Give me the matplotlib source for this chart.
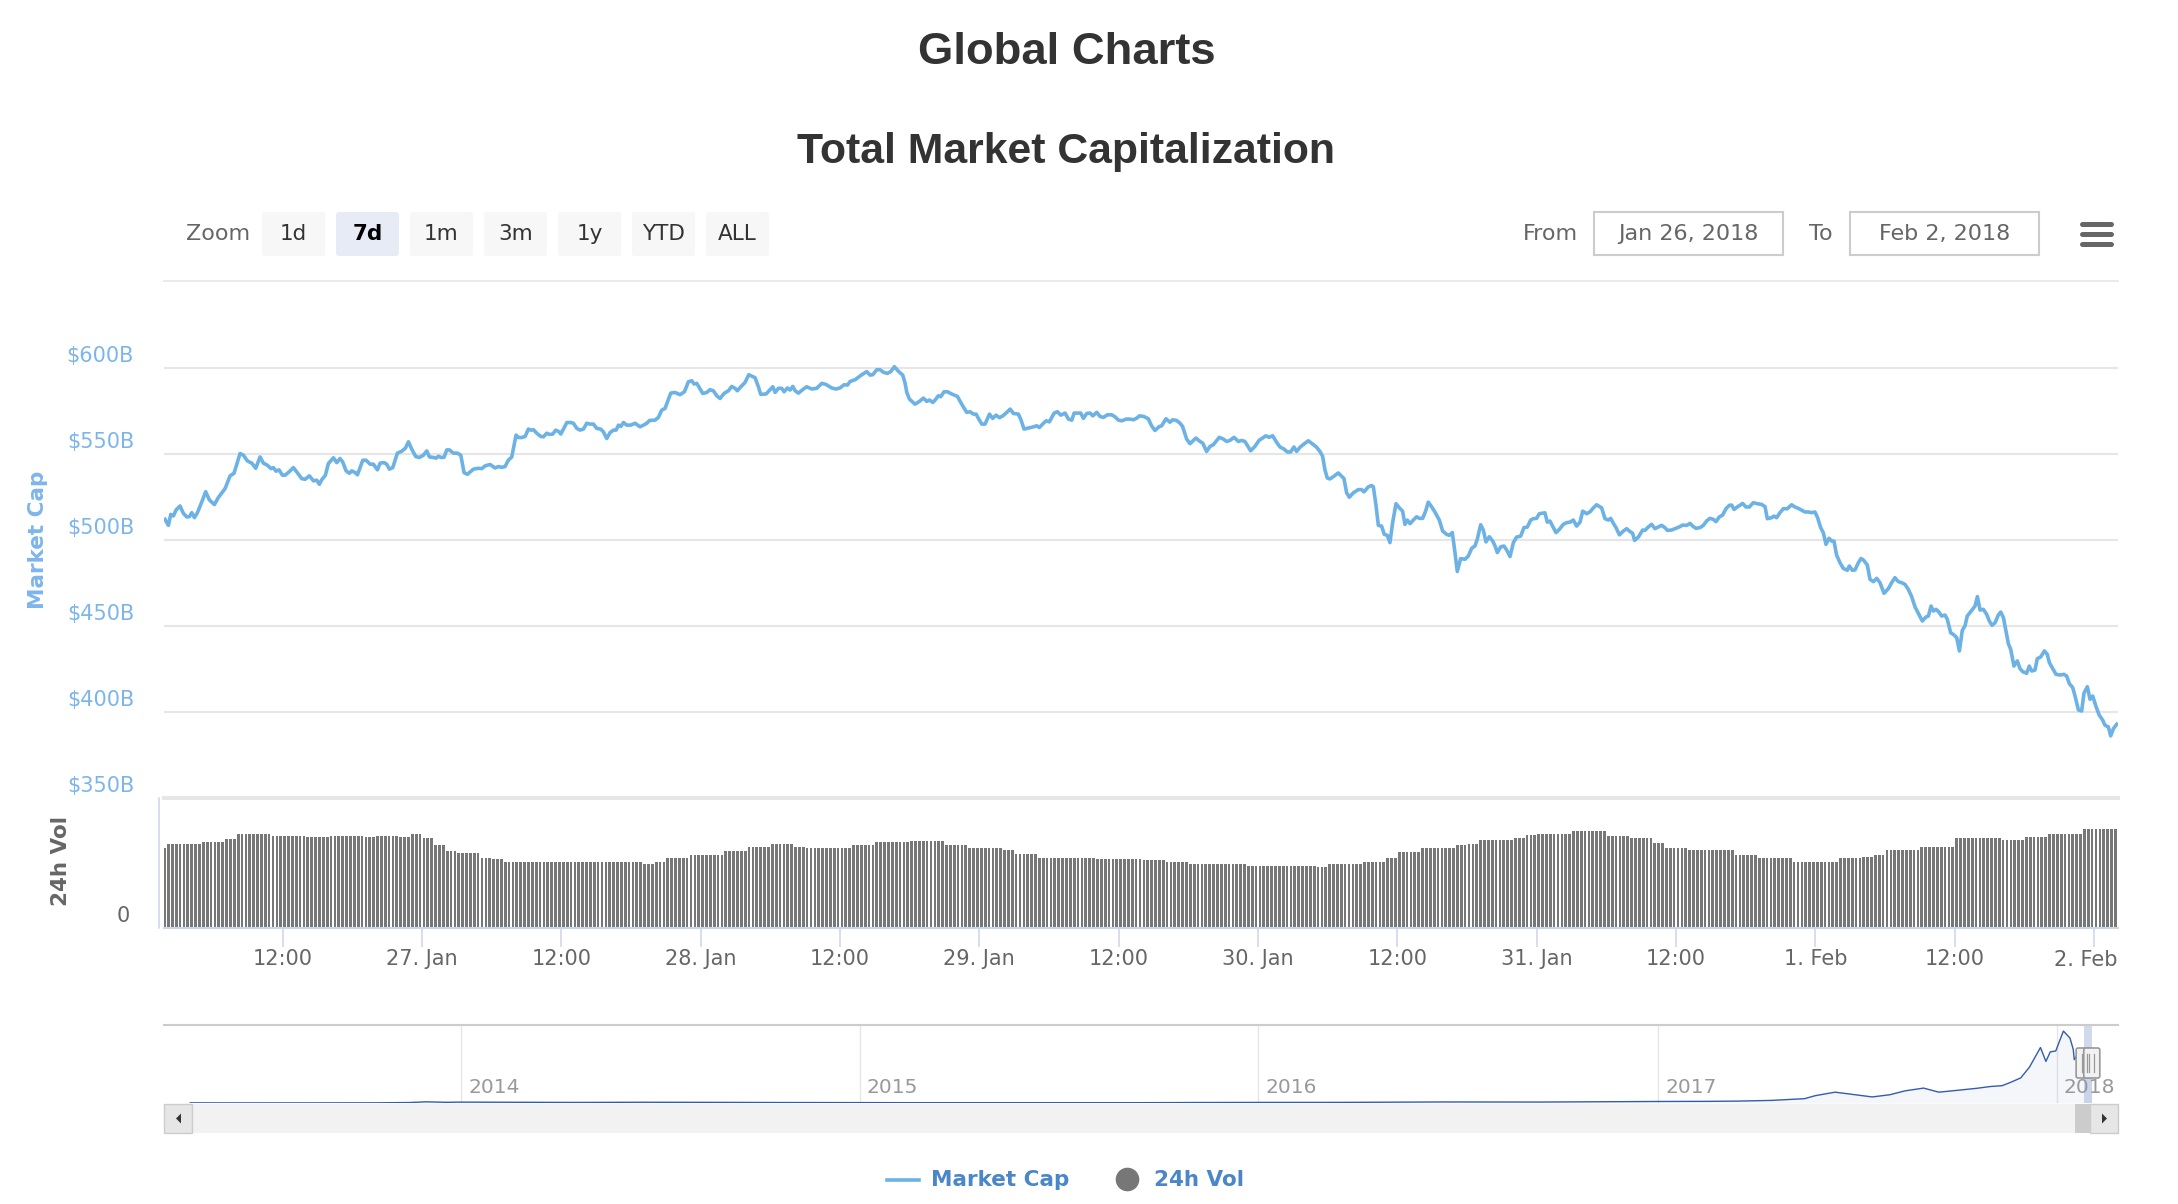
import numpy as np
import pandas as pd
import matplotlib
matplotlib.use("Agg")
import matplotlib.pyplot as plt
import matplotlib.dates as mdates
from matplotlib.patches import FancyBboxPatch, Rectangle, Polygon
from matplotlib.lines import Line2D
from matplotlib.transforms import offset_copy

plt.rcParams['font.family'] = ['DejaVu Sans']

W, H = 2178, 1204
BASE = pd.Timestamp('2018-01-26 00:00')

# total market cap, hours after 26 Jan 2018 00:00 -> $B
mc_hours = [
    1.87, 2.16, 2.36, 2.59, 2.82, 3.16, 3.45, 3.74, 3.97, 4.17,
    4.40, 4.66, 5.03, 5.37, 5.69, 6.12, 6.46, 7.04, 7.47, 7.81,
    8.33, 8.62, 8.96, 9.34, 9.68, 10.05, 10.34, 10.68, 11.00, 11.20,
    11.43, 11.69, 11.98, 12.21, 12.58, 12.92, 13.21, 13.64, 13.93, 14.30,
    14.65, 14.93, 15.16, 15.36, 15.68, 15.94, 16.37, 16.66, 16.94, 17.17,
    17.46, 17.75, 17.95, 18.24, 18.44, 18.90, 19.18, 19.53, 19.81, 20.16,
    20.39, 20.73, 20.96, 21.19, 21.48, 21.88, 22.25, 22.57, 22.83, 23.12,
    23.46, 23.78, 24.12, 24.41, 24.64, 24.98, 25.21, 25.41, 25.64, 25.90,
    26.13, 26.36, 26.70, 27.05, 27.34, 27.62, 27.91, 28.43, 28.86, 29.15,
    29.43, 29.86, 30.29, 30.58, 30.87, 31.15, 31.44, 31.73, 32.10, 32.30,
    32.59, 32.88, 33.16, 33.37, 33.60, 33.88, 34.23, 34.46, 34.74, 34.97,
    35.26, 35.52, 35.81, 35.95, 36.18, 36.47, 36.81, 37.04, 37.33, 37.61,
    37.90, 38.19, 38.48, 38.76, 39.05, 39.39, 39.62, 39.91, 40.20, 40.49,
    40.71, 40.92, 41.12, 41.35, 41.63, 41.98, 42.35, 42.78, 43.07, 43.36,
    43.59,
    44.07, 44.36, 44.64, 44.93, 45.42, 45.79, 46.22, 46.60, 46.94, 47.23,
    47.43, 47.66, 48.18, 48.52, 48.81, 49.09, 49.38, 49.67, 50.01, 50.39,
    50.67, 50.96, 51.16, 51.45, 51.82, 52.14, 52.68, 52.97, 53.17, 53.63,
    53.98, 54.21, 54.41, 54.69, 54.98, 55.18, 55.47, 55.70, 55.93, 56.13,
    56.42, 56.85, 57.13, 57.56, 57.99, 58.43, 58.77, 59.29, 59.66, 60.00,
    60.35, 60.64, 60.87, 61.30, 61.58, 61.87, 62.30, 62.59, 62.82, 63.16,
    63.45, 63.74, 64.08, 64.37, 64.68, 65.03, 65.40, 65.60, 65.75, 65.98,
    66.46, 66.84, 67.18, 67.47, 67.70, 67.99, 68.19, 68.47, 68.67, 68.96,
    69.25, 69.62, 70.11, 70.48, 70.91, 71.20, 71.49, 71.72, 71.92, 72.21,
    72.49, 72.87, 73.15, 73.44, 73.73, 74.02, 74.36, 74.65, 74.93, 75.36,
    75.56, 75.85, 76.23, 76.66, 76.94, 77.17, 77.52, 77.75, 78.03, 78.44,
    78.72, 79.01, 79.38, 79.67, 79.96, 80.16, 80.53, 80.73, 80.96, 81.25,
    81.54, 81.77, 82.11, 82.40, 82.69, 83.03, 83.40, 83.69, 83.98, 84.26,
    84.64, 84.98, 85.27, 85.56, 85.79,
    86.17, 86.55, 86.83, 87.12, 87.50, 87.70, 88.07, 88.41, 88.64, 88.99,
    89.28, 89.50, 89.85, 90.14, 90.65, 91.00, 91.23, 91.57, 91.86, 92.15,
    92.66, 93.01, 93.29, 93.58, 93.93, 94.30, 94.59, 94.87, 95.36, 95.73,
    96.08, 96.40, 96.68, 96.94, 97.26, 97.60, 97.89, 98.23, 98.52, 98.81,
    99.09, 99.32, 99.61, 99.95, 100.33, 100.70, 101.05, 101.33, 101.56, 101.76,
    101.96, 102.19, 102.54, 102.91, 103.20, 103.40, 103.63, 103.86, 104.20, 104.63,
    104.92, 105.12, 105.50, 105.78, 105.93, 106.16, 106.36, 106.64, 106.87, 107.13,
    107.36, 107.59, 107.88, 108.17, 108.45, 108.65, 108.86, 109.09, 109.43, 109.66,
    109.89, 110.18, 110.43, 110.66, 110.95, 111.24, 111.61, 111.90, 112.24, 112.47,
    112.73, 112.96, 113.16, 113.45, 113.82, 114.11, 114.40, 114.68, 114.88, 115.17,
    115.40, 115.63, 115.92, 116.21, 116.41, 116.61, 116.89, 117.18, 117.41, 117.70,
    117.99, 118.27, 118.62, 118.90, 119.19, 119.48, 119.71, 119.99, 120.22, 120.71,
    120.91, 121.14, 121.43, 121.66, 121.95, 122.29, 122.58, 122.87, 123.15, 123.44,
    123.73, 123.96, 124.30, 124.59, 124.88, 125.16, 125.59, 125.88, 126.17, 126.37,
    126.60, 126.83, 127.12, 127.46, 127.75, 127.98,
    128.26, 128.43, 128.75, 129.12, 129.32, 129.61, 129.90, 130.18, 130.47, 130.76,
    131.04, 131.25, 131.62, 131.99, 132.28, 132.57, 132.91, 133.20, 133.43, 133.71,
    134.06, 134.35, 134.63, 134.92, 135.21, 135.44, 135.72, 136.01, 136.30, 136.59,
    136.79, 136.99, 137.27, 137.50, 137.73, 138.02, 138.31, 138.65, 139.00, 139.37,
    139.66, 139.86, 140.23, 140.43, 140.66, 140.95, 141.24, 141.58, 141.95, 142.24,
    142.53, 142.82, 143.10, 143.39, 143.68, 143.96, 144.19, 144.45, 144.68, 144.91,
    145.17, 145.40, 145.60, 145.83, 146.12, 146.40, 146.75, 146.92, 147.18, 147.41,
    147.70, 147.93, 148.13, 148.47, 148.70, 148.99, 149.28, 149.56, 149.91, 150.28,
    150.57, 150.85, 151.14, 151.43, 151.72, 152.00, 152.29, 152.58, 152.86, 153.21,
    153.52, 153.73, 153.96, 154.16, 154.39, 154.64, 154.87, 155.16, 155.36, 155.65,
    155.94, 156.17, 156.40, 156.65, 156.88, 157.08, 157.46, 157.75, 157.95, 158.18,
    158.46, 158.75, 158.98, 159.21, 159.47, 159.75, 159.96, 160.19, 160.41, 160.62,
    160.82, 161.10, 161.39, 161.62, 161.85, 162.19, 162.42, 162.63, 162.91, 163.11,
    163.40, 163.72, 163.97, 164.15, 164.43, 164.72, 165.07, 165.41, 165.64, 165.87,
    166.16, 166.36, 166.65, 166.93, 167.13, 167.42, 167.65, 167.88, 168.17, 168.45,
    168.74, 168.94, 169.23, 169.43, 169.66, 169.95,
]
mc_values = [
    512.0, 508.5, 514.9, 514.0, 517.5, 519.8, 515.5, 513.4, 513.6, 515.9,
    513.0, 515.9, 522.1, 528.1, 523.3, 520.6, 524.7, 529.9, 537.3, 538.8,
    550.3, 549.3, 546.0, 544.7, 541.7, 548.3, 544.7, 543.5, 541.5, 542.1,
    540.0, 540.8, 537.7, 537.7, 539.8, 542.1, 539.6, 535.7, 535.3, 537.3,
    534.4, 534.8, 532.4, 535.0, 537.7, 544.5, 547.8, 545.0, 547.4, 545.4,
    540.2, 538.8, 540.2, 539.2, 537.9, 546.4, 546.4, 544.1, 544.1, 540.8,
    544.7, 545.0, 544.1, 541.2, 542.1, 550.5, 551.6, 553.4, 557.1, 552.8,
    548.5, 548.0, 549.3, 551.8, 548.3, 548.0, 547.6, 548.7, 548.0, 548.1,
    552.4, 552.4, 550.5, 550.5, 549.3, 539.2, 538.2, 541.2, 541.7, 541.5,
    543.1, 543.9, 541.9, 542.7, 542.3, 542.7, 546.4, 548.3, 561.0, 559.6,
    559.6, 560.2, 564.5, 563.9, 564.1, 562.1, 560.2, 560.0, 562.1, 561.4,
    561.6, 563.9, 562.9, 561.6, 564.5, 568.3, 568.3, 567.9, 564.9, 563.9,
    564.5, 567.9, 567.4, 567.4, 564.9, 564.5, 562.9, 559.0, 562.5, 563.9,
    563.9, 566.8, 566.0, 568.3, 566.8, 566.8, 567.9, 565.8, 566.8, 567.9,
    569.5,
    569.7, 571.3, 575.5, 576.5, 585.4, 585.8, 584.5, 586.2, 592.0, 592.6,
    590.7, 591.1, 585.2, 585.8, 587.4, 586.8, 583.9, 582.3, 585.2, 586.8,
    589.3, 588.2, 586.8, 589.1, 591.6, 596.1, 594.4, 589.1, 584.7, 584.9,
    587.4, 589.1, 585.8, 588.2, 588.2, 586.2, 588.4, 587.2, 589.3, 586.8,
    585.4, 587.8, 589.1, 587.8, 588.2, 591.1, 590.5, 588.4, 587.8, 588.4,
    590.3, 590.1, 592.2, 593.2, 594.6, 596.1, 597.9, 595.9, 596.1, 599.0,
    599.0, 597.5, 596.9, 597.9, 600.8, 598.1, 595.9, 591.3, 585.8, 581.9,
    579.0, 580.6, 582.5, 580.6, 581.4, 580.0, 581.4, 583.9, 583.3, 586.2,
    586.2, 584.9, 583.5, 579.0, 574.2, 574.6, 573.2, 573.2, 570.7, 567.4,
    567.4, 573.2, 570.7, 572.6, 571.1, 572.2, 574.2, 576.1, 573.6, 573.2,
    570.3, 564.5, 565.1, 565.8, 566.4, 565.4, 567.9, 569.3, 568.7, 573.8,
    574.6, 572.6, 573.8, 570.3, 569.7, 573.8, 573.8, 573.8, 570.7, 573.6,
    573.8, 572.2, 574.2, 571.8, 571.3, 572.8, 572.8, 571.6, 569.7, 569.3,
    570.3, 570.3, 569.9, 570.9, 572.2,
    571.8, 570.5, 566.4, 563.7, 566.0, 566.4, 570.5, 568.5, 569.9, 569.5,
    567.9, 566.0, 558.7, 556.0, 559.3, 557.3, 556.4, 551.5, 554.4, 555.4,
    559.7, 558.7, 557.3, 557.9, 559.7, 557.3, 557.9, 557.3, 551.9, 554.4,
    557.9, 559.3, 560.6, 559.7, 560.6, 556.8, 554.1, 552.9, 551.2, 551.2,
    554.1, 551.5, 553.9, 555.8, 557.7, 555.8, 553.9, 551.5, 548.7, 540.9,
    536.1, 535.5, 537.1, 539.0, 537.1, 535.7, 527.4, 524.9, 527.4, 529.3,
    529.3, 528.0, 530.9, 531.7, 530.9, 520.1, 508.5, 508.1, 503.3, 502.7,
    498.5, 510.1, 521.1, 518.7, 516.8, 509.1, 511.6, 509.5, 512.0, 513.5,
    512.6, 512.6, 516.8, 522.0, 519.3, 516.2, 511.6, 505.2, 503.3, 502.7,
    504.3, 492.7, 481.7, 489.2, 488.8, 490.7, 495.2, 496.5, 500.4, 508.9,
    505.8, 498.9, 501.9, 499.4, 496.5, 492.7, 496.0, 496.5, 494.2, 490.4,
    498.5, 501.7, 502.3, 507.2, 507.5, 511.6, 512.4, 512.6, 515.3, 515.8,
    510.4, 511.0, 507.2, 504.3, 506.2, 509.1, 510.1, 510.4, 511.6, 508.1,
    510.4, 516.8, 515.3, 516.4, 518.7, 520.5, 518.7, 512.4, 511.6, 512.6,
    509.7, 507.2, 503.0, 505.2, 506.6, 505.2,
    503.9, 499.8, 501.7, 505.8, 505.6, 507.6, 509.1, 506.6, 507.6, 508.5,
    507.2, 505.6, 505.8, 506.8, 507.6, 508.7, 508.5, 509.7, 508.1, 506.8,
    507.2, 508.5, 511.1, 512.6, 512.0, 510.7, 513.4, 514.5, 518.2, 520.2,
    520.3, 517.8, 519.2, 520.2, 521.3, 519.2, 519.2, 521.7, 521.1, 520.7,
    519.4, 512.4, 513.0, 513.9, 513.0, 515.9, 518.2, 518.2, 520.5, 519.2,
    518.4, 517.3, 516.3, 516.3, 515.9, 516.3, 513.0, 507.2, 504.3, 497.5,
    501.0, 499.4, 499.4, 491.1, 486.8, 483.5, 482.4, 484.9, 482.4, 482.6,
    486.8, 489.3, 488.4, 485.5, 477.2, 475.8, 477.7, 475.2, 469.0, 471.7,
    475.2, 478.1, 475.8, 475.2, 474.2, 471.3, 467.1, 461.1, 457.4, 452.9,
    455.2, 455.8, 461.6, 458.7, 459.7, 458.1, 455.8, 456.4, 453.9, 446.1,
    444.8, 443.2, 435.5, 447.5, 450.0, 455.8, 459.1, 461.6, 467.1, 459.3,
    459.7, 456.8, 452.9, 450.4, 451.9, 456.4, 458.1, 454.9, 447.1, 439.7,
    436.4, 426.7, 429.7, 425.2, 423.5, 422.5, 426.7, 423.8, 424.4, 431.0,
    432.0, 435.5, 433.5, 428.7, 425.4, 421.9, 421.5, 421.9, 420.9, 416.5,
    414.2, 409.3, 401.2, 400.6, 410.9, 414.7, 407.4, 409.3, 403.1, 398.1,
    395.3, 392.3, 391.3, 386.1, 390.3, 392.9,
]

# 24h volume in $B, one reading per hour starting 26 Jan 01:00 (3 bars per hour)
vol_hourly = [
    36.9, 38.8, 38.8, 38.8, 39.7, 39.7, 41.1, 43.4, 43.4, 43.4, 42.5, 42.5,
    42.5, 42.0, 42.0, 42.5, 42.5, 42.5, 42.0, 42.5, 42.5, 42.0, 43.4, 41.5,
    38.3, 35.5, 34.6, 34.6, 32.3, 31.8, 30.5, 30.5, 30.5, 30.5, 30.5, 30.5,
    30.5, 30.5, 30.5, 30.5, 30.5, 30.5, 29.5, 30.5, 32.3, 32.3, 33.7, 33.7,
    33.7, 35.5, 35.5, 37.4, 37.4, 38.8, 38.8, 37.4, 36.9, 36.9, 36.9, 36.9,
    38.3, 38.3, 39.7, 39.7, 39.7, 40.2, 40.2, 40.2, 38.3, 38.3, 36.9, 36.9,
    36.9, 36.0, 34.2, 34.2, 32.3, 32.3, 32.3, 32.3, 32.3, 31.8, 31.8, 31.8,
    31.8, 31.4, 31.4, 30.5, 30.5, 29.5, 29.5, 29.5, 29.5, 29.5, 28.6, 28.6,
    28.6, 28.6, 28.6, 28.6, 28.2, 29.5, 29.5, 29.5, 30.5, 30.5, 32.3, 35.1,
    35.1, 36.9, 36.9, 36.9, 38.3, 38.8, 40.6, 40.6, 40.6, 41.5, 43.0, 43.4,
    43.4, 43.4, 44.8, 44.8, 44.8, 42.5, 42.5, 41.5, 41.5, 39.2, 36.9, 36.9,
    36.0, 36.0, 36.0, 36.0, 33.7, 33.7, 32.3, 32.3, 32.3, 30.5, 30.5, 30.5,
    30.5, 32.3, 32.3, 33.0, 33.7, 36.0, 36.0, 36.0, 37.4, 37.4, 37.4, 41.5,
    41.5, 41.5, 41.5, 40.6, 40.6, 42.0, 42.0, 43.4, 43.4, 43.4, 45.7, 45.7,
    45.7,
]

# navigator: all-time total market cap ($B)
nav_dates = [
    '2013-04-28', '2013-06-15', '2013-08-15', '2013-10-15', '2013-11-15', '2013-11-30',
    '2013-12-18', '2013-12-31', '2014-02-15', '2014-04-15', '2014-06-15', '2014-08-15',
    '2014-10-15', '2014-12-31', '2015-02-15', '2015-06-15', '2015-09-15', '2015-11-05',
    '2015-12-31', '2016-03-15', '2016-06-18', '2016-09-15', '2016-12-31', '2017-02-15',
    '2017-03-15', '2017-04-15', '2017-05-15', '2017-05-25', '2017-06-12', '2017-07-16',
    '2017-08-01', '2017-08-15', '2017-09-01', '2017-09-15', '2017-10-01', '2017-10-20',
    '2017-11-01', '2017-11-12', '2017-11-20', '2017-11-29', '2017-12-07', '2017-12-17',
    '2017-12-22', '2017-12-26', '2017-12-31', '2018-01-07', '2018-01-13', '2018-01-16',
    '2018-01-17', '2018-01-20', '2018-01-26', '2018-02-02',
]
nav_values = [
    1.6, 1.2, 1.3, 2.0, 5.5, 13.5,
    8.0, 10.0, 8.5, 6.5, 8.5, 7.5,
    5.5, 4.5, 3.5, 3.5, 3.5, 5.5,
    6.5, 7.0, 12.0, 11.0, 17.5, 19.0,
    22.0, 30.0, 50.0, 85.0, 125.0, 70.0,
    95.0, 140.0, 172.0, 125.0, 145.0, 170.0,
    190.0, 200.0, 240.0, 290.0, 415.0, 640.0,
    480.0, 590.0, 600.0, 830.0, 750.0, 620.0,
    500.0, 560.0, 560.0, 390.0,
]

ytick_values = [350, 400, 450, 500, 550, 600]
ytick_labels = ['$350B', '$400B', '$450B', '$500B', '$550B', '$600B']
xtick_hours = [12, 24, 36, 48, 60, 72, 84, 96, 108, 120, 132, 144, 156, 168]
xtick_labels = ['12:00', '27. Jan', '12:00', '28. Jan', '12:00', '29. Jan', '12:00',
                '30. Jan', '12:00', '31. Jan', '12:00', '1. Feb', '12:00', '2. Feb']
zoom_buttons = ['1d', '7d', '1m', '3m', '1y', 'YTD', 'ALL']
nav_years = ['2014', '2015', '2016', '2017', '2018']

LINE = '#6cb2e4'
LABEL_BLUE = '#7cb5ec'
GRID = '#e6e6e6'
AXIS = '#ccd6eb'
GREY_TXT = '#666666'
LEGEND_BLUE = '#4a86c8'

fig = plt.figure(figsize=(W / 100, H / 100), dpi=100)
inch = fig.dpi_scale_trans


def pt(x, y):
    # pixel position, origin top-left -> inches for dpi_scale_trans
    return x / 100, (H - y) / 100


def axes_box(x0, y0, x1, y1):
    return [x0 / W, 1 - y1 / H, (x1 - x0) / W, (y1 - y0) / H]


def ftext(x, y, s, **kw):
    fig.text(*pt(x, y), s, transform=inch, **kw)


def fline(xs, ys, **kw):
    fig.add_artist(Line2D([x / 100 for x in xs], [(H - y) / 100 for y in ys],
                          transform=inch, **kw))


def frect(x0, y0, x1, y1, **kw):
    fig.add_artist(Rectangle(pt(x0, y1), (x1 - x0) / 100, (y1 - y0) / 100,
                             transform=inch, **kw))


x_start = BASE + pd.Timedelta(hours=1.78)
x_end = BASE + pd.Timedelta(hours=170.06)

# ---- main market cap pane
ax = fig.add_axes(axes_box(164, 281, 2118, 798))
mc_time = BASE + pd.to_timedelta(mc_hours, unit='h')
ax.plot(mc_time, mc_values, color=LINE, lw=2.6, solid_joinstyle='round', zorder=3)
ax.set_xlim(x_start, x_end)
ax.set_ylim(350, 650.6)
ax.set_yticks(ytick_values)
ax.grid(axis='y', color=GRID, lw=1.5)
ax.set_axisbelow(True)
ax.tick_params(left=False, bottom=False, labelleft=False, labelbottom=False)
for s in ['left', 'right', 'bottom']:
    ax.spines[s].set_visible(False)
ax.spines['top'].set_color(GRID)
ax.spines['top'].set_linewidth(1.2)
lab_tr = offset_copy(ax.get_yaxis_transform(), fig=fig, x=-30, y=12, units='dots')
for v, t in zip(ytick_values, ytick_labels):
    ax.text(0, v, t, transform=lab_tr, ha='right', va='center',
            color=LABEL_BLUE, fontsize=15, clip_on=False)
ftext(38, 540, 'Market Cap', rotation=90, ha='center', va='center',
      color=LABEL_BLUE, fontsize=15.5, fontweight='bold')

# ---- volume pane
axv = fig.add_axes(axes_box(164, 798, 2118, 928))
bar_time = pd.date_range(BASE + pd.Timedelta(minutes=70), periods=3 * len(vol_hourly), freq='20min')
bar_vol = np.repeat(vol_hourly, 3)
axv.bar(bar_time, bar_vol, width=14 / 1440, color='#777777', linewidth=0)
axv.set_xlim(x_start, x_end)
axv.set_ylim(0, 60)
axv.set_yticks([])
axv.set_xticks([BASE + pd.Timedelta(hours=h) for h in xtick_hours])
axv.set_xticklabels(xtick_labels[:-1] + [''])
axv.tick_params(axis='x', direction='out', length=14, width=1.1, color=AXIS,
                labelcolor=GREY_TXT, labelsize=15, pad=1)
for s in ['left', 'right', 'top']:
    axv.spines[s].set_visible(False)
axv.spines['bottom'].set_color(AXIS)
axv.spines['bottom'].set_linewidth(1.5)
ftext(2118, 960, xtick_labels[-1], ha='right', va='center', color=GREY_TXT, fontsize=15)
ftext(61, 861, '24h Vol', rotation=90, ha='center', va='center',
      color=GREY_TXT, fontsize=15.5, fontweight='bold')
ftext(130, 916, '0', ha='right', va='center', color=GREY_TXT, fontsize=15)
fline([164, 2118], [798, 798], color=GRID, lw=2.9)
fline([159, 159], [798, 928], color=AXIS, lw=1.1)

# ---- navigator
axn = fig.add_axes(axes_box(164, 1025, 2118, 1103))
nav_t = pd.to_datetime(nav_dates)
axn.fill_between(nav_t, nav_values, color='#335cad', alpha=0.05, lw=0)
axn.plot(nav_t, nav_values, color='#335cad', lw=1.0)
axn.set_xlim(pd.Timestamp('2013-04-04'), pd.Timestamp('2018-02-26'))
axn.set_ylim(0, 900)
axn.set_xticks([])
axn.set_yticks([])
for s in axn.spines.values():
    s.set_visible(False)
yr_tr = offset_copy(axn.get_xaxis_transform(), fig=fig, x=7, units='dots')
for yr in nav_years:
    d = pd.Timestamp(yr + '-01-01')
    axn.axvline(d, color=GRID, lw=1.0, zorder=0)
    axn.text(d, 0.2, yr, transform=yr_tr, ha='left', va='center',
             color='#999999', fontsize=14.5)
sel_start, sel_end = BASE, BASE + pd.Timedelta(days=7)
axn.axvspan(sel_start, sel_end, color=(102 / 255, 133 / 255, 194 / 255), alpha=0.3, lw=0)
fline([164, 2118], [1025, 1025], color='#cccccc', lw=1.5)

# scrollbar
frect(164, 1104, 2118, 1133, facecolor='#f2f2f2', edgecolor='none')
frect(164, 1104, 192, 1133, facecolor='#e6e6e6', edgecolor='#cccccc', lw=1)
frect(2090, 1104, 2118, 1133, facecolor='#e6e6e6', edgecolor='#cccccc', lw=1)
frect(2075, 1104, 2090, 1133, facecolor='#cccccc', edgecolor='none')
fig.add_artist(Polygon([pt(176, 1118.5), pt(181, 1113.5), pt(181, 1123.5)],
                       closed=True, transform=inch, facecolor='#333333', edgecolor='none'))
fig.add_artist(Polygon([pt(2107, 1118.5), pt(2102, 1113.5), pt(2102, 1123.5)],
                       closed=True, transform=inch, facecolor='#333333', edgecolor='none'))

# navigator handles at the selected range ends
for d in [sel_start, sel_end]:
    cx = axn.transData.transform((mdates.date2num(d), 0))[0]
    cx_px = cx * 100 / fig.dpi
    fig.add_artist(FancyBboxPatch(pt(cx_px - 8, 1078), 16 / 100, 30 / 100,
                                  boxstyle='round,pad=0,rounding_size=0.02',
                                  transform=inch, facecolor='#f2f2f2', edgecolor='#999999', lw=1.2))
    fline([cx_px - 2.5, cx_px - 2.5], [1054, 1072], color='#999999', lw=0.9)
    fline([cx_px + 2.5, cx_px + 2.5], [1054, 1072], color='#999999', lw=0.9)

# ---- header
ftext(1067, 53, 'Global Charts', ha='center', va='center', color='#333333',
      fontsize=32.7, fontweight='bold', family=['Liberation Sans', 'DejaVu Sans'])
ftext(1066, 152, 'Total Market Capitalization', ha='center', va='center', color='#333333',
      fontsize=30.8, fontweight='bold', family=['Liberation Sans', 'DejaVu Sans'])

ftext(218.5, 234, 'Zoom', ha='center', va='center', color=GREY_TXT, fontsize=16)
for i, lab in enumerate(zoom_buttons):
    x0 = 262 + 74 * i
    active = lab == '7d'
    fig.add_artist(FancyBboxPatch(pt(x0, 256), 63 / 100, 44 / 100,
                                  boxstyle='round,pad=0,rounding_size=0.03', transform=inch,
                                  facecolor='#e6ebf5' if active else '#f7f7f7', edgecolor='none'))
    ftext(x0 + 31.5, 234, lab, ha='center', va='center',
          color='#000000' if active else '#333333', fontsize=15.5,
          fontweight='bold' if active else 'normal')

ftext(1550, 233.5, 'From', ha='center', va='center', color=GREY_TXT, fontsize=16)
ftext(1821, 233.5, 'To', ha='center', va='center', color=GREY_TXT, fontsize=16)
frect(1594, 212, 1783, 255, facecolor='none', edgecolor='#cccccc', lw=1.5)
frect(1850, 212, 2039, 255, facecolor='none', edgecolor='#cccccc', lw=1.5)
ftext(1688.5, 233.5, 'Jan 26, 2018', ha='center', va='center', color=GREY_TXT, fontsize=16)
ftext(1944.5, 233.5, 'Feb 2, 2018', ha='center', va='center', color=GREY_TXT, fontsize=16)
for yy in [224, 234, 244]:
    fline([2081.5, 2110.5], [yy, yy], color=GREY_TXT, lw=3.6, solid_capstyle='round')

# ---- legend
fline([887, 919], [1180, 1180], color=LINE, lw=2.6)
ftext(931, 1180, 'Market Cap', ha='left', va='center', color=LEGEND_BLUE,
      fontsize=15.5, fontweight='bold')
fig.add_artist(Line2D([1126.5 / 100], [(H - 1179) / 100], transform=inch, marker='o',
                      markersize=16, color='#777777', lw=0))
ftext(1154, 1180, '24h Vol', ha='left', va='center', color=LEGEND_BLUE,
      fontsize=15.5, fontweight='bold')

fig.savefig('out.png', dpi=100, facecolor='white')
